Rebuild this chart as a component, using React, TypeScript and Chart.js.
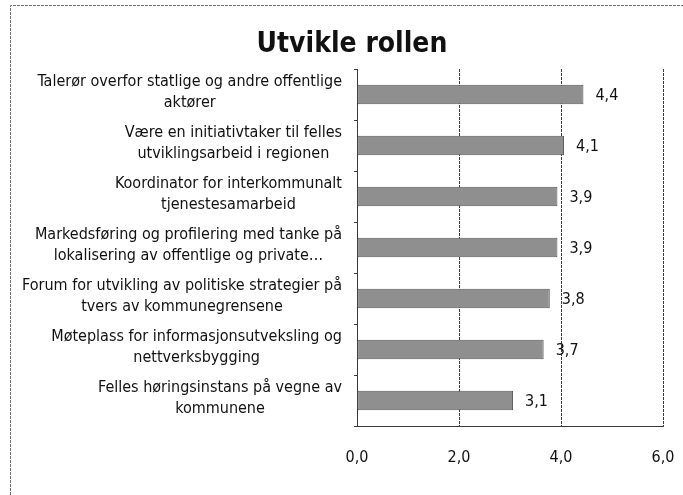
import React, { useEffect, useRef } from "react";
import { Chart, registerables } from "chart.js";

Chart.register(...registerables);

const TITLE = "Utvikle rollen";
const CATEGORIES: string[][] = [
  ["Talerør overfor statlige og andre offentlige", "aktører"],
  ["Være en initiativtaker til felles", "utviklingsarbeid i regionen"],
  ["Koordinator for interkommunalt", "tjenestesamarbeid"],
  ["Markedsføring og profilering med tanke på", "lokalisering av offentlige og private…"],
  ["Forum for utvikling av politiske strategier på", "tvers av kommunegrensene"],
  ["Møteplass for informasjonsutveksling og", "nettverksbygging"],
  ["Felles høringsinstans på vegne av", "kommunene"],
];
const VALUES: number[] = [4.44, 4.06, 3.93, 3.93, 3.78, 3.66, 3.06];
const X_MIN = 0;
const X_MAX = 6;
const X_STEP = 2;

const FONT = "'Liberation Sans Narrow', 'DejaVu Sans Condensed', 'Liberation Sans', sans-serif";
const fmt = (v: number) => v.toFixed(1).replace(".", ",");

const decorPlugin = {
  id: "decor",
  beforeDraw(chart: any) {
    const ctx = chart.ctx;
    ctx.save();
    ctx.fillStyle = "#ffffff";
    ctx.fillRect(0, 0, chart.width, chart.height);
    ctx.strokeStyle = "#6f6f6f";
    ctx.lineWidth = 1;
    ctx.setLineDash([3, 1]);
    ctx.beginPath();
    ctx.moveTo(10.5, chart.height);
    ctx.lineTo(10.5, 5.5);
    ctx.lineTo(chart.width, 5.5);
    ctx.stroke();
    ctx.restore();
  },
  afterDraw(chart: any) {
    const ctx = chart.ctx;
    const yScale = chart.scales.y;
    const area = chart.chartArea;
    ctx.save();
    // title
    ctx.fillStyle = "#111";
    ctx.font = `bold 28px ${FONT}`;
    ctx.textAlign = "center";
    ctx.textBaseline = "middle";
    ctx.fillText(TITLE, 352, 45);
    // category labels: block right-aligned, lines centered within block
    ctx.font = `16px ${FONT}`;
    const lineH = 21;
    const right = area.left - 15;
    CATEGORIES.forEach((lines, i) => {
      const yc = yScale.getPixelForValue(i) - 2;
      const maxW = Math.max(...lines.map((l) => ctx.measureText(l).width));
      const cx = right - maxW / 2;
      const start = yc - ((lines.length - 1) * lineH) / 2;
      lines.forEach((l, j) => {
        ctx.fillText(l, cx, start + j * lineH);
      });
    });
    // value labels
    const meta = chart.getDatasetMeta(0);
    ctx.textAlign = "left";
    ctx.font = `16px ${FONT}`;
    meta.data.forEach((bar: any, i: number) => {
      ctx.fillText(fmt(VALUES[i]), bar.x + 12, bar.y + 1);
    });
    ctx.restore();
  },
};

export default function App() {
  const ref = useRef<HTMLCanvasElement | null>(null);
  useEffect(() => {
    if (!ref.current) return;
    const chart = new Chart(ref.current, {
      type: "bar",
      data: {
        labels: CATEGORIES.map((c) => c.join(" ")),
        datasets: [
          {
            data: VALUES,
            backgroundColor: "#8f8f8f",
            borderColor: "#555555",
            borderWidth: 1,
            borderSkipped: false,
            categoryPercentage: 1,
            barPercentage: 0.38,
          },
        ],
      },
      options: {
        indexAxis: "y",
        animation: false,
        responsive: false,
        layout: { padding: { left: 10, right: 20, top: 69, bottom: 0 } },
        plugins: {
          legend: { display: false },
          title: { display: false },
          tooltip: { enabled: false },
        },
        scales: {
          x: {
            min: X_MIN,
            max: X_MAX,
            ticks: {
              stepSize: X_STEP,
              padding: 22,
              color: "#111",
              font: { family: FONT, size: 16 },
              callback: (v: any) => fmt(Number(v)),
            },
            grid: {
              color: "#3a3a3a",
              lineWidth: 1,
              drawTicks: false,
            },
            border: { display: true, color: "#3a3a3a", width: 1, dash: [3, 1] },
            afterFit: (s: any) => {
              s.height = 69;
              s.paddingLeft = 0;
              s.paddingRight = 0;
            },
          },
          y: {
            ticks: { display: false },
            grid: {
              drawOnChartArea: false,
              drawTicks: true,
              tickLength: 3,
              offset: true,
              color: "#3a3a3a",
            },
            border: { display: true, color: "#3a3a3a", width: 1 },
            afterFit: (s: any) => {
              s.width = 347;
            },
          },
        },
      },
      plugins: [decorPlugin],
    });
    return () => chart.destroy();
  }, []);
  return (
    <div style={{ position: "absolute", left: 0, top: 0, width: 683, height: 495, overflow: "hidden", background: "#fff" }}>
      <canvas ref={ref} width={683} height={495} style={{ display: "block" }} />
    </div>
  );
}
